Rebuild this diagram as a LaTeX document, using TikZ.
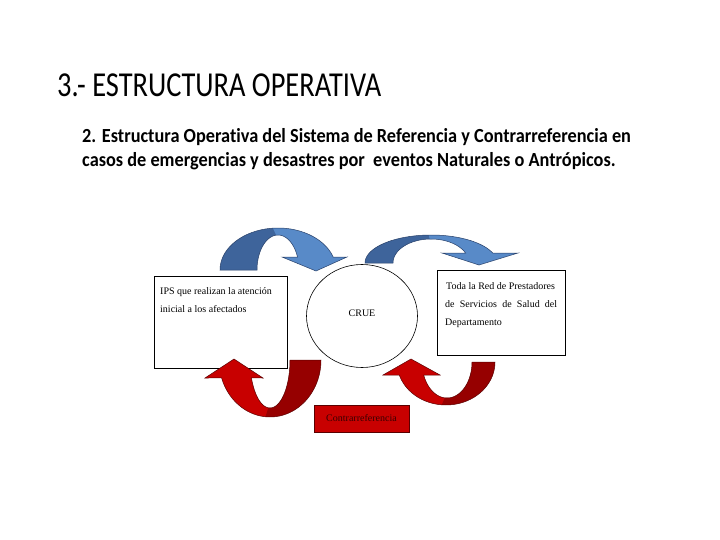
\documentclass[tikz,border=0pt]{standalone}
\usepackage{fontspec}
\usetikzlibrary{shapes.geometric}
\setmainfont{Liberation Serif}
\newfontfamily\titlefont[FakeStretch=0.812,Ligatures=NoCommon]{Carlito}
\newfontfamily\subfont[FakeStretch=0.915,Ligatures=NoCommon]{Carlito}
\definecolor{bluedark}{RGB}{62,100,155}
\definecolor{bluelight}{RGB}{88,138,200}
\definecolor{blueline}{RGB}{40,64,105}
\definecolor{reddark}{RGB}{150,0,0}
\definecolor{redlight}{RGB}{200,0,0}
\definecolor{redline}{RGB}{90,0,0}
\definecolor{redtext}{RGB}{55,0,0}
\tikzset{
  boxshape/.style={draw=black, fill=white, line width=0.6pt, inner sep=0pt},
  small/.style={font=\fontsize{10}{12}\selectfont, inner sep=0pt, anchor=base west},
  outl/.style={draw=#1, line width=0.5pt},
}
\begin{document}
\begin{tikzpicture}[x=1pt,y=-1pt]
\useasboundingbox (0,0) rectangle (720,540);
\fill[white] (0,0) rectangle (720,540);

% titles
\node[anchor=base west, inner sep=0pt, font=\titlefont\fontsize{35}{40}\selectfont] (title) at (57,97) {3.- ESTRUCTURA OPERATIVA};
\node[anchor=base west, inner sep=0pt, font=\subfont\bfseries\fontsize{20}{24}\selectfont] (sub1) at (82,143) {2. Estructura Operativa del Sistema de Referencia y Contrarreferencia en};
\node[anchor=base west, inner sep=0pt, font=\subfont\bfseries\fontsize{20}{24}\selectfont] (sub2) at (82,167) {casos de emergencias y desastres por\ \ eventos Naturales o Antrópicos.};

% boxes
\node[boxshape, anchor=north west, minimum width=133pt, minimum height=92pt] (ips) at (154,276) {};
\node[boxshape, anchor=north west, minimum width=128pt, minimum height=85pt] (red) at (437,270) {};
\node[boxshape, ellipse, minimum width=111pt, minimum height=103pt] (crue) at (362,316) {};
\node[small, anchor=center] (crueT) at (362,313) {CRUE};
\node[draw=redline, fill=redlight, line width=0.6pt, minimum width=95pt, minimum height=27pt, inner sep=0pt, text=redtext, font=\fontsize{10}{12}\selectfont] (contra) at (361.5,418.5) {Contrarreferencia};

\node[small] (ips1) at (160,294) {IPS que realizan la atención};
\node[small] (ips2) at (160,312) {inicial a los afectados};
\node[small] (red1) at (446,289) {Toda la Red de Prestadores};
\node[small] (red2) at (445,307) {\makebox[112pt][s]{de Servicios de Salud del}};
\node[small] (red3) at (445,325) {Departamento};

% top-left blue arrow
\fill[bluedark] plot[domain=180:268,samples=40] ({278+58*cos(\x)},{270+42*sin(\x)}) -- plot[domain=268:180,samples=40] ({278+21*cos(\x)},{270+35*sin(\x)}) -- cycle;
\fill[bluelight] plot[domain=265:342,samples=40] ({278+58*cos(\x)},{270+42*sin(\x)}) -- (347,257) -- (316,271) -- (282,257) -- plot[domain=338.2:265,samples=40] ({278+21*cos(\x)},{270+35*sin(\x)}) -- cycle;
\draw[outl=blueline] plot[domain=180:342,samples=60] ({278+58*cos(\x)},{270+42*sin(\x)}) -- (347,257) -- (316,271) -- (282,257) -- plot[domain=338.2:180,samples=60] ({278+21*cos(\x)},{270+35*sin(\x)}) -- cycle;

% top-right blue arrow
\fill[bluedark] plot[domain=180:272,samples=40] ({431+66*cos(\x)},{263+28*sin(\x)}) -- plot[domain=272:180,samples=40] ({431+38*cos(\x)},{263+24*sin(\x)}) -- cycle;
\fill[bluelight] plot[domain=268:339.1,samples=40] ({431+66*cos(\x)},{263+28*sin(\x)}) -- (518,253) -- (479,265) -- (442,253) -- plot[domain=335.4:268,samples=40] ({431+38*cos(\x)},{263+24*sin(\x)}) -- cycle;
\draw[outl=blueline] plot[domain=180:339.1,samples=60] ({431+66*cos(\x)},{263+28*sin(\x)}) -- (518,253) -- (479,265) -- (442,253) -- plot[domain=335.4:180,samples=60] ({431+38*cos(\x)},{263+24*sin(\x)}) -- cycle;

% bottom-left red arrow
\fill[redlight] plot[domain=85:161.6,samples=40] ({270+51*cos(\x)},{360+57*sin(\x)}) -- (205,378) -- (234,359) -- (263,378) -- plot[domain=158:85,samples=40] ({270+20*cos(\x)},{360+48*sin(\x)}) -- cycle;
\fill[reddark] plot[domain=0:95,samples=40] ({270+51*cos(\x)},{360+57*sin(\x)}) -- plot[domain=95:0,samples=40] ({270+20*cos(\x)},{360+48*sin(\x)}) -- cycle;
\draw[outl=redline] plot[domain=0:161.6,samples=60] ({270+51*cos(\x)},{360+57*sin(\x)}) -- (205,378) -- (234,359) -- (263,378) -- plot[domain=158:0,samples=60] ({270+20*cos(\x)},{360+48*sin(\x)}) -- cycle;

% bottom-right red arrow
\fill[redlight] plot[domain=85:162.4,samples=40] ({446+49*cos(\x)},{362+43*sin(\x)}) -- (383,375) -- (411,359) -- (440,375) -- plot[domain=158.8:85,samples=40] ({447+25*cos(\x)},{362+36*sin(\x)}) -- cycle;
\fill[reddark] plot[domain=0:95,samples=40] ({446+49*cos(\x)},{362+43*sin(\x)}) -- plot[domain=95:0,samples=40] ({447+25*cos(\x)},{362+36*sin(\x)}) -- cycle;
\draw[outl=redline] plot[domain=0:162.4,samples=60] ({446+49*cos(\x)},{362+43*sin(\x)}) -- (383,375) -- (411,359) -- (440,375) -- plot[domain=158.8:0,samples=60] ({447+25*cos(\x)},{362+36*sin(\x)}) -- cycle;
\end{tikzpicture}
\end{document}
